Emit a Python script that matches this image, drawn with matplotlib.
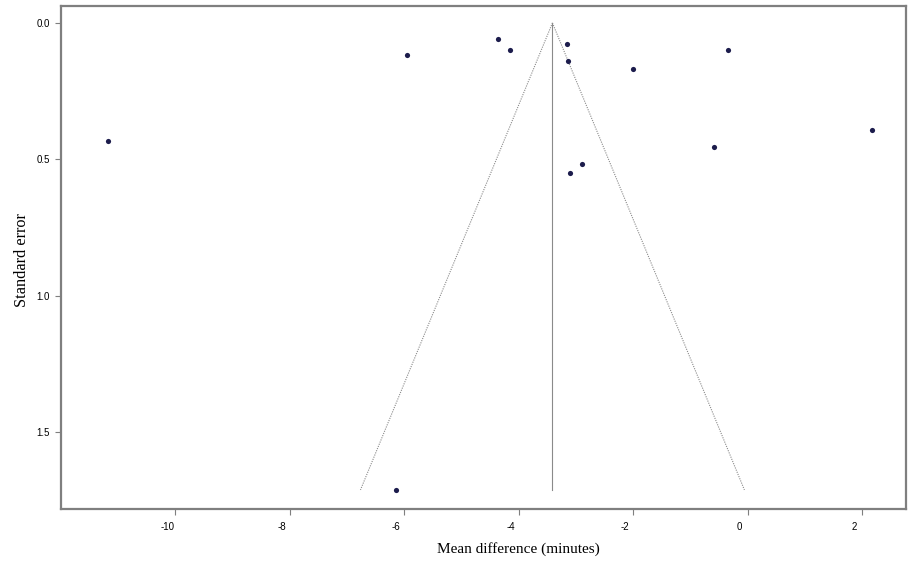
import matplotlib
matplotlib.use("Agg")
import matplotlib.pyplot as plt
import matplotlib.transforms as mtransforms
import numpy as np

# Data
mean_diff = [-11.17, -5.96, -4.36, -4.16, -3.16, -3.14, -2.00, -0.35, 2.17, -0.58, -2.90, -3.11, -6.15]
std_err = [0.433, 0.116, 0.060, 0.100, 0.078, 0.140, 0.170, 0.099, 0.393, 0.456, 0.518, 0.551, 1.712]
pooled = -3.41
se_max = 1.712
x_ticks = [-10, -8, -6, -4, -2, 0, 2]
y_ticks = [0.0, 0.5, 1.0, 1.5]

W, H = 911, 564
fig = plt.figure(figsize=(W / 100, H / 100), dpi=100)
ax = fig.add_axes([61 / W, 1 - 509 / H, (906 - 61) / W, (509 - 6) / H])

frame_col = "#7f7f7f"
line_col = "#8a8a8a"

# funnel
se_line = np.array([0.0, se_max])
ax.plot(pooled - 1.96 * se_line, se_line, color=line_col, lw=0.8, ls=(0, (1, 1.1)))
ax.plot(pooled + 1.96 * se_line, se_line, color=line_col, lw=0.8, ls=(0, (1, 1.1)))
ax.plot([pooled, pooled], [0, se_max], color=line_col, lw=0.8)

ax.scatter(mean_diff, std_err, s=14, color="#1c1c4c", zorder=3, linewidths=0)

ax.set_xlim(-12.0, 2.77)
ax.set_ylim(1.782, -0.062)
ax.set_xticks(x_ticks)
ax.set_xticklabels([str(v) for v in x_ticks], family="Liberation Sans", fontsize=7)
ax.set_yticks(y_ticks)
ax.set_yticklabels([f"{v:.1f}" for v in y_ticks], family="Liberation Sans", fontsize=7)

for s in ax.spines.values():
    s.set_color(frame_col)
    s.set_linewidth(1.6)
ax.tick_params(axis="both", color=frame_col, length=4.3, width=0.8)
ax.tick_params(axis="x", pad=5.0)
ax.tick_params(axis="y", pad=3.5)

shift = mtransforms.ScaledTranslation(-8 / 100, 0, fig.dpi_scale_trans)
for lab in ax.get_xticklabels():
    lab.set_transform(lab.get_transform() + shift)

fig.text(518.5 / W, 1 - 549 / H, "Mean difference (minutes)", family="Liberation Serif",
         fontsize=11, ha="center", va="center")
fig.text(22.5 / W, 1 - 260 / H, "Standard error", family="Liberation Serif",
         fontsize=11.7, ha="center", va="center", rotation=90)

fig.savefig("out.png", dpi=100)
